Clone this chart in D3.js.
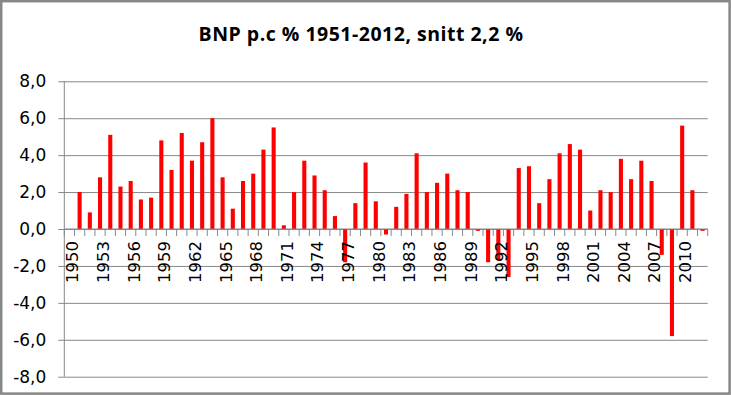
<!DOCTYPE html>
<html>
<head>
<meta charset="utf-8">
<script src="https://cdn.jsdelivr.net/npm/d3@7"></script>
<style>
    body { margin: 0; background: #fff; }
    svg { display: block; }
</style>
</head>
<body>
<script>
// categories (years), first one has no value
const years = ["1950","1951","1952","1953","1954","1955","1956","1957","1958","1959",
    "1960","1961","1962","1963","1964","1965","1966","1967","1968","1969",
    "1970","1971","1972","1973","1974","1975","1976","1977","1978","1979",
    "1980","1981","1982","1983","1984","1985","1986","1987","1988","1989",
    "1990","1991","1992","1993","1994","1995","1996","1997","1998","1999",
    "2000","2001","2002","2003","2004","2005","2006","2007","2008","2009",
    "2010","2011","2012"];
// BNP p.c growth in %
const growth = [null, 2.0, 0.9, 2.8, 5.1, 2.3, 2.6, 1.6, 1.7, 4.8,
    3.2, 5.2, 3.7, 4.7, 6.0, 2.8, 1.1, 2.6, 3.0, 4.3,
    5.5, 0.2, 2.0, 3.7, 2.9, 2.1, 0.7, -1.8, 1.4, 3.6,
    1.5, -0.3, 1.2, 1.9, 4.1, 2.0, 2.5, 3.0, 2.1, 2.0,
    -0.1, -1.8, -1.7, -2.6, 3.3, 3.4, 1.4, 2.7, 4.1, 4.6,
    4.3, 1.0, 2.1, 2.0, 3.8, 2.7, 3.7, 2.6, -1.4, -5.8,
    5.6, 2.1, -0.1];
// labels shown on the x axis
const xTickLabels = ["1950","1953","1956","1959","1962","1965","1968","1971","1974","1977",
    "1980","1983","1986","1989","1992","1995","1998","2001","2004","2007","2010"];
const yTicks = [-8, -6, -4, -2, 0, 2, 4, 6, 8];
const title = "BNP p.c % 1951-2012, snitt 2,2 %";

const width = 731, height = 395;
let margin = { top: 81.3, right: 23.3, bottom: 18.3, left: 64.3 };

const no = d3.formatLocale({ decimal: ",", thousands: " ", grouping: [3], currency: ["", ""], minus: "-" });
const fmt = no.format(".1f");

let svg = d3.select("body").append("svg")
    .attr("width", width)
    .attr("height", height);

// outer chart frame
svg.append("rect")
    .attr("x", 1.2).attr("y", 1.2)
    .attr("width", width - 2.6).attr("height", height - 2.6)
    .attr("fill", "#fff")
    .attr("stroke", "#878787")
    .attr("stroke-width", 2.5);

svg.append("text")
    .attr("x", 361)
    .attr("y", 40.5)
    .attr("text-anchor", "middle")
    .style("font-family", "'Open Sans', Lato, sans-serif")
    .style("font-weight", "bold")
    .style("font-size", "19.5px")
    .style("letter-spacing", "0.5px")
    .style("fill", "#000")
    .text(title);

let xScale = d3.scaleBand()
    .domain(years)
    .range([margin.left, width - margin.right])
    .paddingInner(0.6)
    .paddingOuter(0.3);

let yScale = d3.scaleLinear()
    .domain([-8, 8])
    .range([height - margin.bottom, margin.top]);

// gridlines + y axis
let yAxis = svg.append("g")
    .attr("transform", "translate(" + margin.left + ",0)")
    .call(d3.axisLeft(yScale)
        .tickValues(yTicks)
        .tickFormat(fmt)
        .tickSize(-(width - margin.left - margin.right))
        .tickPadding(18));
yAxis.select(".domain").remove();
yAxis.selectAll(".tick line").attr("stroke", "#878787").attr("x1", -6);
yAxis.selectAll(".tick text")
    .style("font-family", "'DejaVu Sans', Verdana, sans-serif")
    .style("font-size", "17px")
    .attr("fill", "#000");

svg.append("line")
    .attr("x1", margin.left).attr("x2", margin.left)
    .attr("y1", yScale(8)).attr("y2", yScale(-8))
    .attr("stroke", "#878787");

// bars
svg.append("g").selectAll("rect")
    .data(years.map((y, i) => ({ year: y, v: growth[i] })).filter(d => d.v !== null))
    .join("rect")
    .attr("x", d => xScale(d.year))
    .attr("width", xScale.bandwidth())
    .attr("y", d => yScale(Math.max(0, d.v)))
    .attr("height", d => Math.abs(yScale(d.v) - yScale(0)))
    .attr("fill", "#ff0000");

// x axis line at zero with tick marks between categories
const step = xScale.step();
const gap = step * xScale.paddingInner() / 2;
let xAxis = svg.append("g");
xAxis.append("line")
    .attr("x1", margin.left).attr("x2", width - margin.right)
    .attr("y1", yScale(0)).attr("y2", yScale(0))
    .attr("stroke", "#878787");
xAxis.selectAll("line.tk")
    .data(years.concat(["end"]))
    .join("line")
    .attr("class", "tk")
    .attr("x1", (d, i) => i < years.length ? xScale(d) - gap : xScale(years[years.length - 1]) + xScale.bandwidth() + gap)
    .attr("x2", (d, i) => i < years.length ? xScale(d) - gap : xScale(years[years.length - 1]) + xScale.bandwidth() + gap)
    .attr("y1", yScale(0))
    .attr("y2", yScale(0) + 7)
    .attr("stroke", "#878787");

xAxis.selectAll("text")
    .data(xTickLabels)
    .join("text")
    .attr("transform", d => "translate(" + (xScale(d) + xScale.bandwidth() / 2 + 3) + "," + (yScale(0) + 12) + ") rotate(-90)")
    .attr("text-anchor", "end")
    .attr("dy", "0.36em")
    .style("font-family", "'DejaVu Sans', Verdana, sans-serif")
    .style("font-size", "16.5px")
    .attr("fill", "#000")
    .text(d => d);
</script>
</body>
</html>
